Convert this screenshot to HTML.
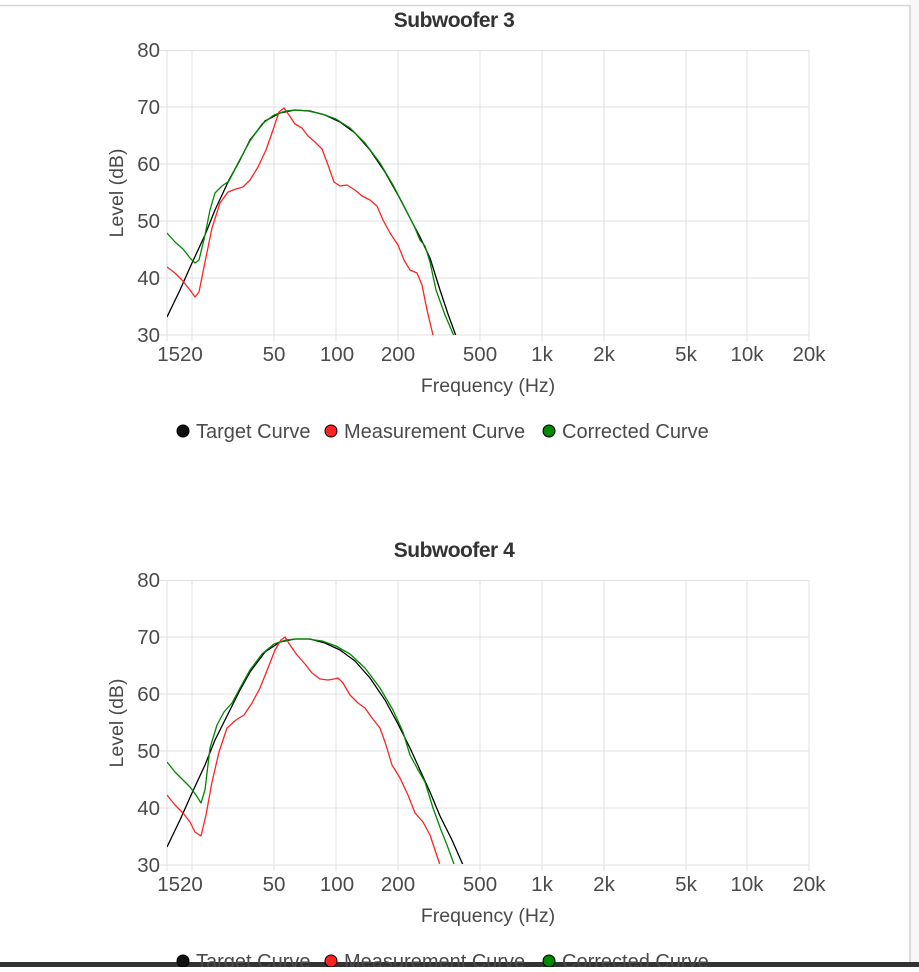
<!DOCTYPE html><html><head><style>
body{margin:0;width:919px;height:967px;background:#fff;overflow:hidden;font-family:"Liberation Sans",sans-serif}
</style></head><body>
<svg width="919" height="967" xmlns="http://www.w3.org/2000/svg" font-family="Liberation Sans, sans-serif">
<rect x="910" y="0" width="9" height="967" fill="#f7f7f7"/>
<line x1="910" y1="5" x2="910" y2="967" stroke="#d0d0d0" stroke-width="1.5"/>
<line x1="0" y1="5.5" x2="910" y2="5.5" stroke="#d6d6d6" stroke-width="1.5"/>
<rect x="0" y="962" width="919" height="5" fill="#333"/>
<defs>
<clipPath id="c1"><rect x="167" y="50" width="642" height="285"/></clipPath>
<clipPath id="c2"><rect x="167" y="580" width="642" height="284"/></clipPath>
<g id="grid" stroke="#e1e1e1" stroke-width="1" fill="none">
<path d="M167 0V285M192 0V285M274 0V285M336 0V285M398 0V285M480 0V285M542 0V285M604 0V285M686 0V285M747 0V285M809 0V285"/>
<path d="M167 0.5H809M167 57H809M167 114H809M167 171H809M167 228H809M167 285H809"/>
<path d="M160 0.5h7M160 57h7M160 114h7M160 171h7M160 228h7M160 285h7M167 285v6M192 285v6M274 285v6M336 285v6M398 285v6M480 285v6M542 285v6M604 285v6M686 285v6M747 285v6M809 285v6"/>
</g>
<g id="ticks" font-size="20.5" fill="#4a4a4a">
<g text-anchor="end"><text x="160" y="7">80</text><text x="160" y="64">70</text><text x="160" y="121">60</text><text x="160" y="178">50</text><text x="160" y="235">40</text><text x="160" y="292">30</text></g>
<g text-anchor="middle"><text x="180" y="311">1520</text><text x="274" y="311">50</text><text x="337" y="311">100</text><text x="398" y="311">200</text><text x="480" y="311">500</text><text x="542" y="311">1k</text><text x="604" y="311">2k</text><text x="686" y="311">5k</text><text x="747" y="311">10k</text><text x="809" y="311">20k</text></g>
<text x="488" y="342" font-size="19.5" text-anchor="middle">Frequency (Hz)</text>
<text transform="translate(123,143) rotate(-90)" font-size="19.5" text-anchor="middle">Level (dB)</text>
</g>
<g id="legend" font-size="20" fill="#4a4a4a">
<circle cx="183" cy="381" r="6" fill="#111" stroke="#000"/><text x="196" y="388">Target Curve</text>
<circle cx="331" cy="381" r="6" fill="#f22" stroke="#000"/><text x="344" y="388">Measurement Curve</text>
<circle cx="549" cy="381" r="6" fill="#080" stroke="#000"/><text x="562" y="388">Corrected Curve</text>
</g>
</defs>
<text x="454" y="27" font-size="21" font-weight="bold" text-anchor="middle" fill="#333" letter-spacing="-0.5">Subwoofer 3</text>
<g transform="translate(0,50)"><use href="#grid"/><use href="#ticks"/><use href="#legend"/></g>
<g clip-path="url(#c1)" fill="none" stroke-width="1.3" stroke-linejoin="round">
<polyline stroke="#000" points="167,317 180,290 192,263 205,235 215,210 229,180 240,160 250,140 265,121 280,113 295,110 310,111 325,115 340,122 355,133 370,150 385,172 398,195 410,218 420,237 430,258 440,290 448,314 456,336"/>
<polyline stroke="#f22" points="167,267 175,273 182,280 190,290 195,297 199,292 205,262 212,228 220,203 228,192 236,189 243,187 250,180 258,167 266,150 273,130 279,112 284,108 289,115 295,124 302,128 308,136 315,142 322,149 328,165 334,182 340,186 347,185 355,190 362,196 370,200 377,206 383,220 390,233 398,245 404,260 410,270 417,273 422,285 427,310 433,335"/>
<polyline stroke="#080" points="167,233 175,242 183,249 190,258 195,263 199,260 205,235 210,210 215,193 222,186 229,181 238,163 250,141 262,124 274,115 286,111 295,110 308,111 322,114 336,119 350,128 365,143 380,163 393,185 405,208 415,228 420,240 425,246 430,262 436,290 445,315 454,336"/>
</g>
<text x="454" y="557" font-size="21" font-weight="bold" text-anchor="middle" fill="#333" letter-spacing="-0.5">Subwoofer 4</text>
<g transform="translate(0,580)"><use href="#grid"/><use href="#ticks"/><use href="#legend"/></g>
<g clip-path="url(#c2)" fill="none" stroke-width="1.3" stroke-linejoin="round">
<polyline stroke="#000" points="167,847 180,820 192,793 205,765 215,740 229,712 240,690 250,672 265,652 280,642 295,639 310,639 325,643 340,650 355,661 370,678 385,700 398,724 410,748 420,770 430,792 440,816 452,840 463,865"/>
<polyline stroke="#f22" points="167,795 175,805 183,813 190,822 195,832 201,836 206,815 212,782 219,752 227,728 236,720 244,715 252,703 260,688 268,668 275,650 281,640 285,637 290,645 297,655 305,664 312,673 320,679 328,680 334,679 338,678 343,683 350,695 358,703 365,708 372,718 380,728 386,745 392,765 400,778 408,795 415,813 423,822 430,835 440,865"/>
<polyline stroke="#080" points="167,762 175,772 183,780 190,787 196,795 201,803 205,790 210,748 217,725 224,712 232,703 240,688 250,670 262,654 274,644 286,640 295,639 308,639 322,641 336,646 350,654 365,668 380,688 393,710 403,732 410,755 417,768 425,782 433,808 441,830 447,845 454,864"/>
</g>
</svg>
</body></html>
